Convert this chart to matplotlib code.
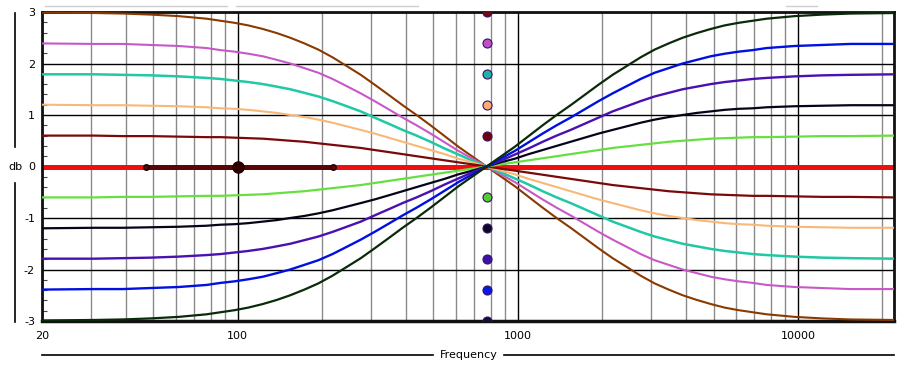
import matplotlib
matplotlib.use("Agg")
import matplotlib.pyplot as plt
from matplotlib.ticker import FixedLocator, FixedFormatter, NullFormatter
from matplotlib.lines import Line2D

# ---------------- data ----------------
freq = [20, 30.8, 38.8, 48.8, 61.5, 77.4, 86.8, 97.4, 109, 123, 138, 154, 173, 194, 218,
        245, 275, 308, 346, 388, 435, 488, 548, 615, 690, 774,
        868, 974, 1093, 1227, 1376, 1544, 1733, 1944, 2181, 2448, 2746, 3081, 3457, 3879,
        4352, 4884, 5480, 6148, 6898, 7740, 9744, 12267, 15443, 22050]

tilt_p30 = [2.99, 2.98, 2.97, 2.95, 2.92, 2.87, 2.83, 2.79, 2.74, 2.67, 2.59, 2.50, 2.39, 2.27, 2.12,
            1.95, 1.78, 1.59, 1.39, 1.19, 1.00, 0.80, 0.59, 0.38, 0.19, 0,
            -0.19, -0.38, -0.59, -0.80, -1.00, -1.19, -1.39, -1.59, -1.78, -1.95, -2.12, -2.27, -2.39, -2.50,
            -2.59, -2.67, -2.74, -2.79, -2.83, -2.87, -2.92, -2.95, -2.97, -2.98]
tilt_p24 = [2.39, 2.38, 2.38, 2.36, 2.34, 2.30, 2.26, 2.23, 2.19, 2.14, 2.07, 2.00, 1.91, 1.82, 1.70,
            1.56, 1.42, 1.27, 1.11, 0.95, 0.80, 0.64, 0.47, 0.30, 0.15, 0,
            -0.15, -0.30, -0.47, -0.64, -0.80, -0.95, -1.11, -1.27, -1.42, -1.56, -1.70, -1.82, -1.91, -2.00,
            -2.07, -2.14, -2.19, -2.23, -2.26, -2.30, -2.34, -2.36, -2.38, -2.38]
tilt_p18 = [1.79, 1.79, 1.78, 1.77, 1.75, 1.72, 1.70, 1.67, 1.64, 1.60, 1.55, 1.50, 1.43, 1.36, 1.27,
            1.17, 1.07, 0.95, 0.83, 0.71, 0.60, 0.48, 0.35, 0.23, 0.11, 0,
            -0.11, -0.23, -0.35, -0.48, -0.60, -0.71, -0.83, -0.95, -1.07, -1.17, -1.27, -1.36, -1.43, -1.50,
            -1.55, -1.60, -1.64, -1.67, -1.70, -1.72, -1.75, -1.77, -1.78, -1.79]
tilt_p12 = [1.20, 1.19, 1.19, 1.18, 1.17, 1.15, 1.13, 1.12, 1.10, 1.07, 1.04, 1.00, 0.96, 0.91, 0.85,
            0.78, 0.71, 0.64, 0.56, 0.48, 0.40, 0.32, 0.24, 0.15, 0.08, 0,
            -0.08, -0.15, -0.24, -0.32, -0.40, -0.48, -0.56, -0.64, -0.71, -0.78, -0.85, -0.91, -0.96, -1.00,
            -1.04, -1.07, -1.10, -1.12, -1.13, -1.15, -1.17, -1.18, -1.19, -1.19]
tilt_p06 = [0.60, 0.60, 0.59, 0.59, 0.58, 0.57, 0.57, 0.56, 0.55, 0.54, 0.52, 0.50, 0.48, 0.45, 0.42,
            0.39, 0.36, 0.32, 0.28, 0.24, 0.20, 0.16, 0.12, 0.08, 0.04, 0,
            -0.04, -0.08, -0.12, -0.16, -0.20, -0.24, -0.28, -0.32, -0.36, -0.39, -0.42, -0.45, -0.48, -0.50,
            -0.52, -0.54, -0.55, -0.56, -0.57, -0.57, -0.58, -0.59, -0.59, -0.60]
tilt_00 = [0, 0]
tilt_00_freq = [20, 22050]
tilt_m06 = [-0.60, -0.60, -0.59, -0.59, -0.58, -0.57, -0.57, -0.56, -0.55, -0.54, -0.52, -0.50, -0.48, -0.45, -0.42,
            -0.39, -0.36, -0.32, -0.28, -0.24, -0.20, -0.16, -0.12, -0.08, -0.04, 0,
            0.04, 0.08, 0.12, 0.16, 0.20, 0.24, 0.28, 0.32, 0.36, 0.39, 0.42, 0.45, 0.48, 0.50,
            0.52, 0.54, 0.55, 0.56, 0.57, 0.57, 0.58, 0.59, 0.59, 0.60]
tilt_m12 = [-1.20, -1.19, -1.19, -1.18, -1.17, -1.15, -1.13, -1.12, -1.10, -1.07, -1.04, -1.00, -0.96, -0.91, -0.85,
            -0.78, -0.71, -0.64, -0.56, -0.48, -0.40, -0.32, -0.24, -0.15, -0.08, 0,
            0.08, 0.15, 0.24, 0.32, 0.40, 0.48, 0.56, 0.64, 0.71, 0.78, 0.85, 0.91, 0.96, 1.00,
            1.04, 1.07, 1.10, 1.12, 1.13, 1.15, 1.17, 1.18, 1.19, 1.19]
tilt_m18 = [-1.79, -1.79, -1.78, -1.77, -1.75, -1.72, -1.70, -1.67, -1.64, -1.60, -1.55, -1.50, -1.43, -1.36, -1.27,
            -1.17, -1.07, -0.95, -0.83, -0.71, -0.60, -0.48, -0.35, -0.23, -0.11, 0,
            0.11, 0.23, 0.35, 0.48, 0.60, 0.71, 0.83, 0.95, 1.07, 1.17, 1.27, 1.36, 1.43, 1.50,
            1.55, 1.60, 1.64, 1.67, 1.70, 1.72, 1.75, 1.77, 1.78, 1.79]
tilt_m24 = [-2.39, -2.38, -2.38, -2.36, -2.34, -2.30, -2.26, -2.23, -2.19, -2.14, -2.07, -2.00, -1.91, -1.82, -1.70,
            -1.56, -1.42, -1.27, -1.11, -0.95, -0.80, -0.64, -0.47, -0.30, -0.15, 0,
            0.15, 0.30, 0.47, 0.64, 0.80, 0.95, 1.11, 1.27, 1.42, 1.56, 1.70, 1.82, 1.91, 2.00,
            2.07, 2.14, 2.19, 2.23, 2.26, 2.30, 2.34, 2.36, 2.38, 2.38]
tilt_m30 = [-2.99, -2.98, -2.97, -2.95, -2.92, -2.87, -2.83, -2.79, -2.74, -2.67, -2.59, -2.50, -2.39, -2.27, -2.12,
            -1.95, -1.78, -1.59, -1.39, -1.19, -1.00, -0.80, -0.59, -0.38, -0.19, 0,
            0.19, 0.38, 0.59, 0.80, 1.00, 1.19, 1.39, 1.59, 1.78, 1.95, 2.12, 2.27, 2.39, 2.50,
            2.59, 2.67, 2.74, 2.79, 2.83, 2.87, 2.92, 2.95, 2.97, 2.98]

pivot_freq = 774
pivot_gains = [3, 2.4, 1.8, 1.2, 0.6, -0.6, -1.2, -1.8, -2.4, -3]
pivot_colors = ["#6e0a14", "#c050c8", "#20b0a8", "#f8b070", "#700010",
                "#50d030", "#0a0a28", "#3a10b0", "#0818e8", "#101030"]

band_freq = [47, 100, 219]
band_gain = [0, 0, 0]

x_ticks = [20, 100, 1000, 10000]
x_labels = ["20", "100", "1000", "10000"]
y_ticks = [-3, -2, -1, 0, 1, 2, 3]

# ---------------- figure ----------------
plt.rcParams["font.family"] = ["DejaVu Sans"]
plt.rcParams["axes.unicode_minus"] = False
fig = plt.figure(figsize=(9.22, 3.67), dpi=100)
ax = fig.add_axes([42 / 922, 1 - 321 / 367, 852 / 922, 309 / 367])

ax.set_xscale("log")
ax.set_xlim(20, 22050)
ax.set_ylim(-3, 3)
ax.xaxis.set_major_locator(FixedLocator(x_ticks))
ax.xaxis.set_major_formatter(FixedFormatter(x_labels))
minor_x = [m * d for d in (10, 100, 1000, 10000) for m in range(2, 10) if 20 < m * d < 22050]
ax.xaxis.set_minor_locator(FixedLocator(minor_x))
ax.xaxis.set_minor_formatter(NullFormatter())
ax.yaxis.set_major_locator(FixedLocator(y_ticks))
ax.yaxis.set_minor_locator(FixedLocator([v / 5 for v in range(-15, 16) if v % 5 != 0]))

ax.grid(which="major", axis="x", color="black", lw=1.0, zorder=0)
ax.grid(which="minor", axis="x", color="#8a8a8a", lw=1.0, zorder=0)
ax.grid(which="major", axis="y", color="black", lw=1.0, zorder=0)
ax.set_axisbelow(True)

ax.tick_params(axis="x", which="both", length=0, pad=7, labelsize=8)
ax.tick_params(axis="y", which="major", length=0, pad=5, labelsize=8)
ax.tick_params(axis="y", which="minor", direction="in", length=3.5, width=0.8, color="#444444")
for name, s in ax.spines.items():
    s.set_linewidth(2.5 if name == "bottom" else 2.0)
    s.set_color("#111111")

# zero line
ax.plot(tilt_00_freq, tilt_00, color="#ee1010", lw=3.6, zorder=2, solid_capstyle="butt")

series = [
    (tilt_p30, "#8a3a00", 1.5),
    (tilt_p24, "#c858c8", 1.5),
    (tilt_p18, "#20c8a4", 1.8),
    (tilt_p12, "#f8b878", 1.5),
    (tilt_p06, "#7a0a0a", 1.6),
    (tilt_m06, "#66e040", 1.6),
    (tilt_m12, "#05051a", 1.6),
    (tilt_m18, "#4a10b0", 1.7),
    (tilt_m24, "#0010e0", 1.7),
    (tilt_m30, "#0a2a0a", 1.6),
]
for vals, col, lw in series:
    ax.plot(freq, vals, color=col, lw=lw, zorder=3)

# selected band on the zero line
ax.plot(band_freq, band_gain, color="#5a0606", lw=3.6, zorder=4, solid_capstyle="butt")
ax.plot([band_freq[0], band_freq[2]], [band_gain[0], band_gain[2]], ls="none", marker="o",
        ms=4, mfc="#5a0606", mec="#200000", mew=1, zorder=5)
ax.plot([band_freq[1]], [band_gain[1]], ls="none", marker="o", ms=8,
        mfc="#300000", mec="#200000", zorder=5)

# pivot handles
for g, c in zip(pivot_gains, pivot_colors):
    ax.plot([pivot_freq], [g], ls="none", marker="o", ms=6.5, mfc=c, mec="#3a1060",
            mew=0.8, zorder=6, clip_on=True)

# axis titles with rules
fig.text(15 / 922, 1 - 167 / 367, "db", ha="center", va="center", fontsize=8)
fig.add_artist(Line2D([15 / 922, 15 / 922], [1 - 13 / 367, 1 - 147 / 367], color="black", lw=1.2))
fig.add_artist(Line2D([15 / 922, 15 / 922], [1 - 183 / 367, 1 - 322 / 367], color="black", lw=1.2))
fig.text(469 / 922, 1 - 355 / 367, "Frequency", ha="center", va="center", fontsize=8)
fig.add_artist(Line2D([42 / 922, 433 / 922], [1 - 355 / 367] * 2, color="black", lw=1.2))
fig.add_artist(Line2D([504 / 922, 894 / 922], [1 - 355 / 367] * 2, color="black", lw=1.2))

# faint top scrollbar remnants
for x0, x1 in [(45, 227), (236, 418), (786, 817)]:
    fig.add_artist(Line2D([x0 / 922, x1 / 922], [1 - 6 / 367] * 2, color="#cfcfcf", lw=1.0))

fig.savefig("out.png", dpi=100)
